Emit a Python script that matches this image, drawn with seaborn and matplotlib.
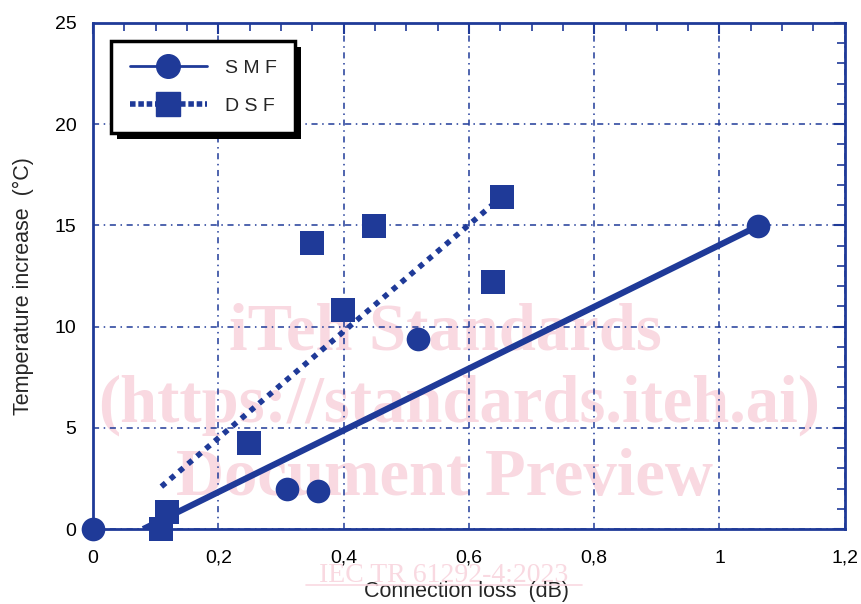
import numpy as np
import pandas as pd
import matplotlib
matplotlib.use('Agg')
import matplotlib.pyplot as plt
import seaborn as sns
from matplotlib.ticker import MultipleLocator, FuncFormatter
from matplotlib.patches import Rectangle
from matplotlib.lines import Line2D

# data
smf_loss = [0.0, 0.310, 0.359, 0.519, 1.061]
smf_temp = [0.0, 1.97, 1.88, 9.4, 14.96]
dsf_loss = [0.109, 0.118, 0.249, 0.350, 0.399, 0.449, 0.639, 0.652]
dsf_temp = [0.0, 0.86, 4.24, 14.14, 10.8, 14.98, 12.2, 16.4]

# fitted trend lines (end points)
smf_fit_x = [0.080, 1.061]
smf_fit_y = [0.0, 14.96]
dsf_fit_x = [0.109, 0.652]
dsf_fit_y = [2.1, 16.4]

x_ticks = [0, 0.2, 0.4, 0.6, 0.8, 1.0, 1.2]
y_ticks = [0, 5, 10, 15, 20, 25]

BLUE = '#1f3a98'
PINK = '#f9d9e1'

sns.set_theme(style='white')
plt.rcParams['font.family'] = ['Liberation Sans', 'DejaVu Sans']

smf = pd.DataFrame({'loss': smf_loss, 'temp': smf_temp})
dsf = pd.DataFrame({'loss': dsf_loss, 'temp': dsf_temp})

fig = plt.figure(figsize=(8.62, 6.04), dpi=100)
ax = fig.add_axes([0.108, 0.124, 0.872, 0.838])

sns.lineplot(x=smf_fit_x, y=smf_fit_y, ax=ax, color=BLUE, linewidth=4.5,
             solid_capstyle='butt', zorder=3)
sns.lineplot(x=dsf_fit_x, y=dsf_fit_y, ax=ax, color=BLUE, linewidth=4,
             linestyle=(0, (1.0, 1.1)), zorder=3)
sns.scatterplot(data=smf, x='loss', y='temp', ax=ax, marker='o', s=290,
                color=BLUE, edgecolor=BLUE, linewidth=0, zorder=4, clip_on=False)
sns.scatterplot(data=dsf, x='loss', y='temp', ax=ax, marker='s', s=300,
                color=BLUE, edgecolor=BLUE, linewidth=0, zorder=4, clip_on=False)

ax.set_xlim(0, 1.2)
ax.set_ylim(0, 25)
ax.set_xticks(x_ticks)
ax.set_yticks(y_ticks)
ax.xaxis.set_minor_locator(MultipleLocator(0.05))
ax.yaxis.set_minor_locator(MultipleLocator(1))
ax.xaxis.set_major_formatter(FuncFormatter(lambda v, p: f'{v:g}'.replace('.', ',')))
ax.tick_params(which='both', direction='in', top=True, right=True, color=BLUE,
               labelsize=14, labelcolor='black')
ax.tick_params(axis='x', which='major', pad=15)
ax.tick_params(axis='y', which='major', pad=12)
ax.tick_params(which='major', length=8, width=1.5)
ax.tick_params(which='minor', length=6, width=1.2)
for s in ax.spines.values():
    s.set_color(BLUE)
    s.set_linewidth(2)
ax.grid(True, which='major', color=BLUE, linestyle=(0, (4, 3, 1, 3)), linewidth=1.1)
ax.set_axisbelow(True)

ax.set_xlabel('Connection loss  (dB)', fontsize=15.5)
ax.set_ylabel('Temperature increase  (°C)', fontsize=15.5)
ax.xaxis.set_label_coords(0.497, -0.103)
ax.yaxis.set_label_coords(-0.093, 0.48)
ax.yaxis.label.set_va('center')

handles = [
    Line2D([], [], color=BLUE, linewidth=2, marker='o', markersize=17),
    Line2D([], [], color=BLUE, linewidth=4, linestyle=(0, (1.0, 0.5)), marker='s',
           markersize=17),
]
leg = ax.legend(handles, ['S M F', 'D S F'], loc='upper left',
                bbox_to_anchor=(0.024, 0.965), fontsize=14, handlelength=4,
                frameon=True, fancybox=False, edgecolor='black', framealpha=1,
                borderpad=0.95, labelspacing=1.05, handletextpad=0.9,
                borderaxespad=0)
leg.get_frame().set_linewidth(2.5)
leg.set_zorder(6)

# solid shadow behind the legend box
fig.canvas.draw()
bb = leg.get_window_extent().transformed(ax.transAxes.inverted())
dx = 6 / (ax.bbox.width)
dy = 6 / (ax.bbox.height)
ax.add_patch(Rectangle((bb.x0 + dx, bb.y0 - dy), bb.width, bb.height,
                       transform=ax.transAxes, facecolor='black',
                       edgecolor='none', zorder=5.5, clip_on=False))

# watermark
wm = dict(transform=fig.transFigure, ha='center', va='center', color=PINK,
          family=['Liberation Serif', 'DejaVu Serif'], fontweight='bold',
          fontsize=48, zorder=0.4)
ax.text(445 / 862, 1 - 333 / 604, 'iTeh Standards', **wm)
ax.text(459 / 862, 1 - 405 / 604, '(https://standards.iteh.ai)', **wm)
ax.text(445 / 862, 1 - 478 / 604, 'Document Preview', **wm)
ax.text(444 / 862, 1 - 582 / 604, 'IEC TR 61292-4:2023', transform=fig.transFigure,
        ha='center', va='baseline', color=PINK, fontsize=20,
        family=['Liberation Serif', 'DejaVu Serif'], zorder=0.4)
fig.add_artist(Line2D([306 / 862, 582 / 862], [1 - 585 / 604, 1 - 585 / 604],
                      color=PINK, linewidth=1.2, zorder=0.4))

fig.savefig('out.png', dpi=100, facecolor='white')
